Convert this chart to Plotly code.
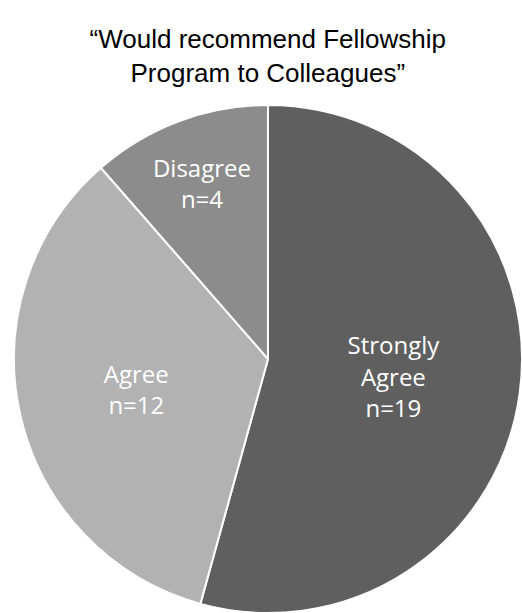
import plotly.graph_objects as go

labels = ["Strongly<br>Agree", "Agree", "Disagree"]
values = [19, 12, 4]
colors = ["#5f5f5f", "#b2b2b2", "#8c8c8c"]
title_text = "“Would recommend Fellowship<br>Program to Colleagues”"

fig = go.Figure(go.Pie(
    labels=labels,
    values=values,
    sort=False,
    direction="clockwise",
    rotation=0,
    marker=dict(colors=colors, line=dict(color="white", width=2)),
    texttemplate="%{label}<br>n=%{value}",
    textposition="inside",
    insidetextorientation="horizontal",
    textfont=dict(family="Open Sans, sans-serif", size=24, color="white"),
    hoverinfo="label+value",
    domain=dict(x=[14/522, 1], y=[0, 1]),
))

fig.update_layout(
    width=522, height=613,
    margin=dict(l=0, r=0, t=105, b=0),
    paper_bgcolor="white",
    showlegend=False,
    title=dict(text=title_text, x=0.513, xanchor="center",
               yref="container", y=0.922, yanchor="middle",
               font=dict(family="Liberation Sans, Arial, sans-serif", size=26, color="black")),
)

fig.write_html("out.html")
